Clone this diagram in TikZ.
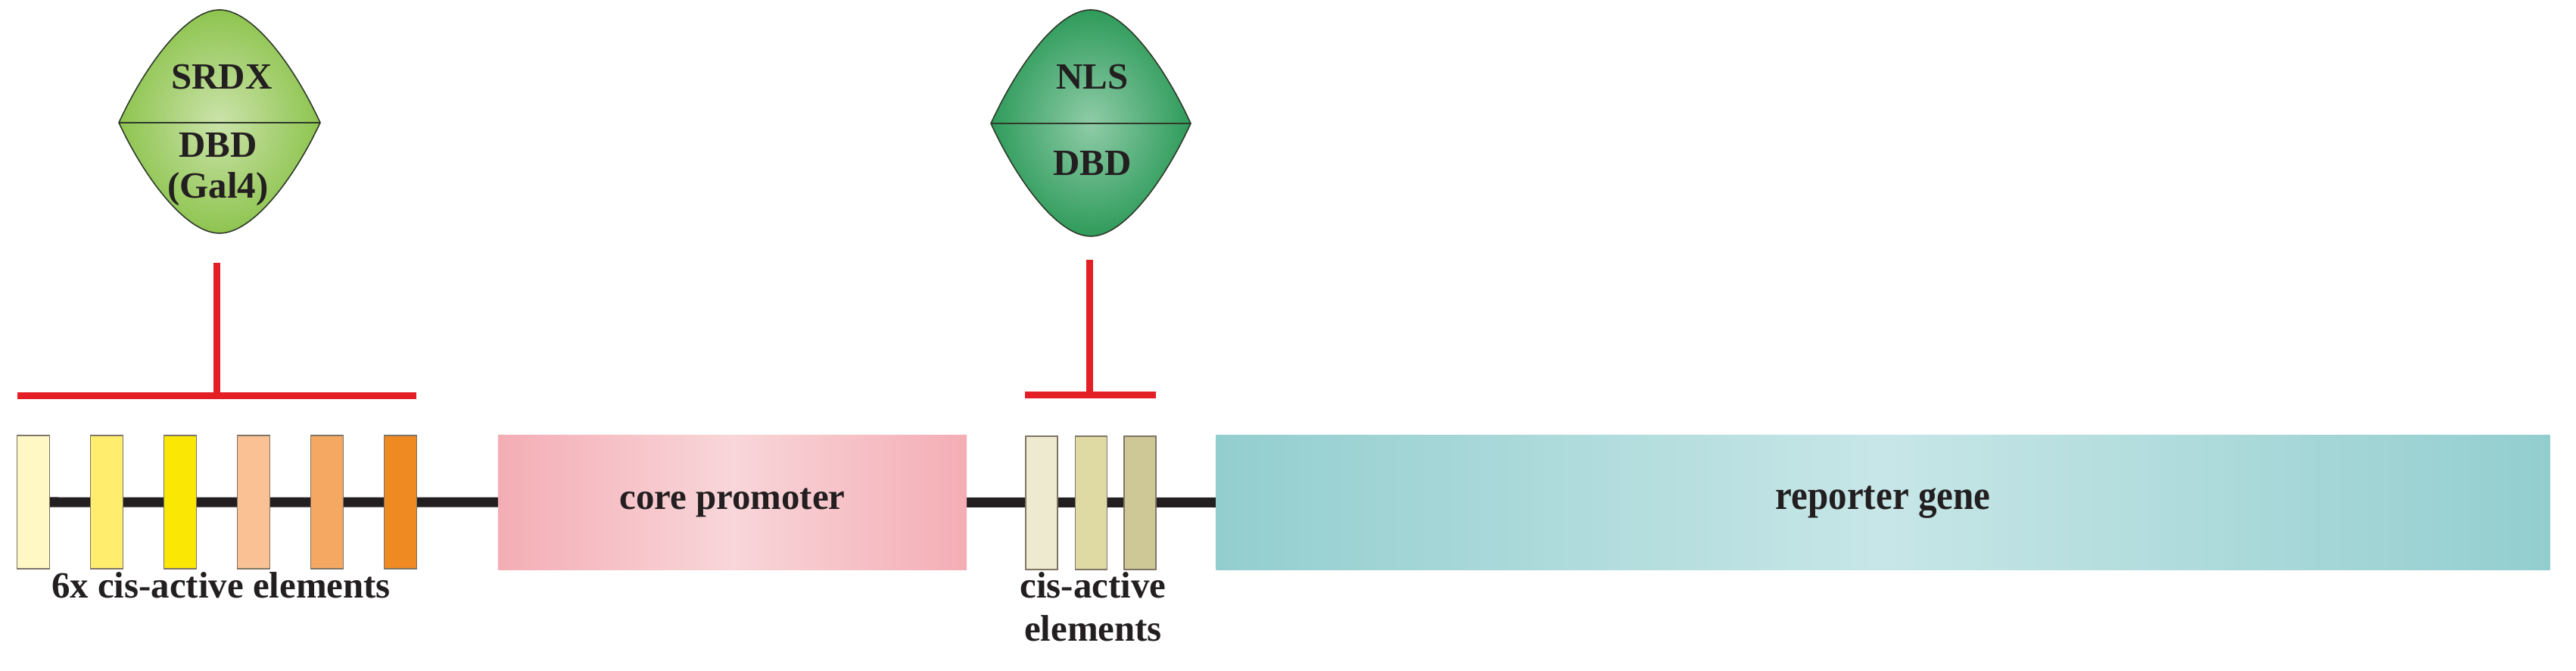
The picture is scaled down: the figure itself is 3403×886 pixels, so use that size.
\documentclass[tikz,border=0pt]{standalone}
\usepackage{fontspec}
\setmainfont{Liberation Serif}
\usetikzlibrary{backgrounds}
\definecolor{ink}{HTML}{231F20}
\definecolor{redT}{HTML}{E31E24}
\definecolor{boxedge}{HTML}{7F7466}
\definecolor{protedge}{HTML}{2F3A2A}
\definecolor{lgout}{HTML}{8EC44F}
\definecolor{lgin}{HTML}{CBE3AA}
\definecolor{dgout}{HTML}{2E9B5A}
\definecolor{dgin}{HTML}{8FCCA8}
\definecolor{cpedge}{HTML}{F4ADB5}
\definecolor{cpmid}{HTML}{F8D6D9}
\definecolor{rgedge}{HTML}{93CECF}
\definecolor{rgmid}{HTML}{C7E6E7}
\definecolor{ca}{HTML}{FFF8C5}
\definecolor{cb}{HTML}{FFEE6E}
\definecolor{cc}{HTML}{FBE704}
\definecolor{cd}{HTML}{F9C194}
\definecolor{ce}{HTML}{F5A862}
\definecolor{cf}{HTML}{EF8A22}
\definecolor{ra}{HTML}{EEEAD0}
\definecolor{rb}{HTML}{DFDAA4}
\definecolor{rc}{HTML}{CDC896}
\begin{document}
\begin{tikzpicture}[x=0.01cm,y=-0.01cm,
  lbl/.style={font=\fontsize{13.9}{16}\selectfont\bfseries, text=ink, inner sep=0pt},
  cisbox/.style={draw=boxedge, line width=0.45pt, minimum width=0.43cm, minimum height=1.76cm, inner sep=0pt},
  inhib/.style={draw=redT, line width=2.56pt},
  backbone/.style={draw=ink, line width=3.7pt},
  protein/.style={shading=radial, draw=protedge, line width=0.45pt},
  region/.style={minimum height=1.77cm, inner sep=0pt, font=\fontsize{13.9}{16}\selectfont\bfseries, text=ink}]
\useasboundingbox (0,0) rectangle (3403,886);

% proteins
\path[protein, inner color=lgin, outer color=lgout]
  (157,162) .. controls (190,90) and (245,13) .. (290,13)
            .. controls (335,13) and (390,90) .. (423,162)
            .. controls (390,233) and (335,308) .. (290,308)
            .. controls (245,308) and (190,233) .. (157,162) -- cycle;
\draw[protedge, line width=0.6pt] (157,162) -- (423,162);
\path[protein, inner color=dgin, outer color=dgout]
  (1309,163) .. controls (1342,91) and (1396,13) .. (1441,13)
             .. controls (1486,13) and (1540,91) .. (1573,163)
             .. controls (1540,235) and (1486,312) .. (1441,312)
             .. controls (1396,312) and (1342,235) .. (1309,163) -- cycle;
\draw[protedge, line width=0.6pt] (1309,163) -- (1573,163);

\node[lbl, anchor=base] (srdx) at (293,118) {SRDX};
\node[lbl, anchor=base] (dbd1) at (288,208) {DBD};
\node[lbl, anchor=base] (gal) at (288,262) {(Gal4)};
\node[lbl, anchor=base] (nls) at (1443,118) {NLS};
\node[lbl, anchor=base] (dbd2) at (1443,232) {DBD};

% cis elements (6x)
\node[cisbox, fill=ca] (b1) at (44,663) {};
\node[cisbox, fill=cb] (b2) at (141,663) {};
\node[cisbox, fill=cc] (b3) at (238,663) {};
\node[cisbox, fill=cd] (b4) at (335,663) {};
\node[cisbox, fill=ce] (b5) at (432,663) {};
\node[cisbox, fill=cf] (b6) at (529,663) {};

% core promoter
\node[region, minimum width=6.19cm, left color=cpedge, right color=cpedge, middle color=cpmid] (cp) at (967.5,663.5) {core promoter};

% cis elements (right)
\node[cisbox, fill=ra, minimum width=0.42cm] (c1) at (1376,664) {};
\node[cisbox, fill=rb, minimum width=0.42cm] (c2) at (1441.5,664) {};
\node[cisbox, fill=rc, minimum width=0.42cm] (c3) at (1506,664) {};

% reporter gene
\node[region, minimum width=17.61cm, left color=rgedge, right color=rgedge, middle color=rgmid] (rep) at (2487.5,663.5) {\scalebox{0.9}[1]{\fontsize{15.5}{18}\selectfont\bfseries reporter gene}};

% backbone
\begin{scope}[on background layer]
  \draw[backbone] (b1.center) -- (rep.west);
\end{scope}

% labels
\node[lbl, anchor=base] (lab1) at (292,790) {6x cis-active elements};
\node[lbl, anchor=base] (lab2a) at (1444,790) {cis-active};
\node[lbl, anchor=base] (lab2b) at (1444,847) {elements};

% repression T-bars
\coordinate (i1top) at (286,347);
\coordinate (i1l) at (23,523);
\coordinate (i1r) at (550,523);
\draw[inhib] (i1l) -- (i1r);
\draw[inhib] (i1top) -- (i1top |- i1l);

\coordinate (i2top) at (1439,343);
\coordinate (i2l) at (1354,522);
\coordinate (i2r) at (1527,522);
\draw[inhib] (i2l) -- (i2r);
\draw[inhib] (i2top) -- (i2top |- i2l);
\end{tikzpicture}
\end{document}
